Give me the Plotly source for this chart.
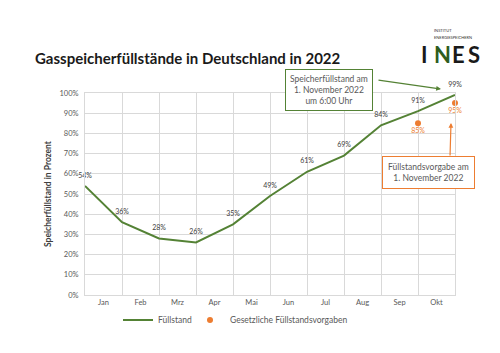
import plotly.graph_objects as go

months = ["Jan", "Feb", "Mrz", "Apr", "Mai", "Jun", "Jul", "Aug", "Sep", "Okt"]
fill_x = [0, 1, 2, 3, 4, 5, 6, 7, 8, 9, 10]
fill_vals = [54, 36, 28, 26, 35, 49, 61, 69, 84, 91, 99]
req_x = [9, 10]
req_vals = [85, 95]
yticks = [0, 10, 20, 30, 40, 50, 60, 70, 80, 90, 100]

GREEN = "#548235"
ORANGE = "#ED7D31"
GRID = "#d9d9d9"
FONT = "Lato"

W, H = 500, 353
l, r, t, b = 85, 45, 93, 58
pw, ph = W - l - r, H - t - b
def px(xp):
    return (xp - l) / pw
def py(yp):
    return (H - b - yp) / ph

fig = go.Figure()
fig.add_trace(go.Scatter(
    x=fill_x, y=fill_vals, mode="lines+markers+text", name="Füllstand",
    line=dict(color=GREEN, width=2),
    marker=dict(size=9, color="rgba(0,0,0,0)"),
    text=[f"{v}%" for v in fill_vals], textposition="top center",
    textfont=dict(size=7, color="#404040", family=FONT),
    cliponaxis=False, hoverinfo="skip", legend="legend",
))
fig.add_trace(go.Scatter(
    x=req_x, y=req_vals, mode="markers+text", name="Gesetzliche Füllstandsvorgaben",
    marker=dict(color=ORANGE, size=6),
    text=[f"{v}%" for v in req_vals], textposition="bottom center",
    textfont=dict(size=7, color=ORANGE, family=FONT),
    cliponaxis=False, hoverinfo="skip", legend="legend2",
))

legend_common = dict(orientation="h", xanchor="left", yanchor="middle",
                     font=dict(size=8.5, color="#595959"), itemwidth=30,
                     bgcolor="rgba(0,0,0,0)")
fig.update_layout(
    width=W, height=H,
    margin=dict(l=l, r=r, t=t, b=b, autoexpand=False),
    paper_bgcolor="white", plot_bgcolor="white",
    font=dict(family=FONT, color="#595959", size=8),
    showlegend=True,
    legend=dict(x=px(118), y=py(320), **legend_common),
    legend2=dict(x=px(190), y=py(320), **legend_common),
    xaxis=dict(range=[0, 10], tickmode="array", tickvals=[i + 0.5 for i in range(10)],
               ticktext=months, showgrid=False, zeroline=False, ticks="",
               showline=True, mirror=True, linecolor=GRID, linewidth=1,
               minor=dict(tick0=0, dtick=1, showgrid=True, gridcolor=GRID, gridwidth=1),
               tickfont=dict(size=7.5, color="#595959")),
    yaxis=dict(range=[0, 100], tickmode="array", tickvals=yticks,
               ticktext=[f"{v}%" for v in yticks], gridcolor=GRID, zeroline=False,
               showline=True, mirror=True, linecolor=GRID, linewidth=1,
               ticks="", ticklen=0, ticklabelstandoff=4,
               tickfont=dict(size=7.5, color="#595959"),
               title=dict(text="Speicherfüllstand in Prozent", standoff=6,
                          font=dict(size=8.5, color="#404040", family=FONT, weight="bold"))),
)

anns = [
    dict(text="<b>Gasspeicherfüllstände in Deutschland in 2022</b>", x=px(33), y=py(58),
         xref="paper", yref="paper", xanchor="left", yanchor="middle", showarrow=False,
         font=dict(size=15, color="#1a1a1a", family=FONT)),
    dict(text="Speicherfüllstand am<br>1. November 2022<br>um 6:00 Uhr", x=px(328.5), y=py(89.5),
         xref="paper", yref="paper", xanchor="center", yanchor="middle", showarrow=False,
         bordercolor=GREEN, borderwidth=1, borderpad=4, bgcolor="white",
         font=dict(size=8.5, color="#595959", family=FONT)),
    dict(text="", x=px(441), y=py(89), xref="paper", yref="paper", ax=-64, ay=-9,
         showarrow=True, arrowhead=2, arrowsize=0.8, arrowwidth=1.2, arrowcolor=GREEN),
    dict(text="Füllstandsvorgabe am<br>1. November 2022", x=px(428.5), y=py(172),
         xref="paper", yref="paper", xanchor="center", yanchor="middle", showarrow=False,
         bordercolor=ORANGE, borderwidth=1, borderpad=5, bgcolor="white",
         font=dict(size=8.5, color="#595959", family=FONT)),
    dict(text="", x=px(451), y=py(123), xref="paper", yref="paper", ax=-1, ay=34,
         showarrow=True, arrowhead=2, arrowsize=0.8, arrowwidth=1.2, arrowcolor=ORANGE),
]

logo = [
    dict(text="INSTITUT", x=px(432), y=py(31), size=4, color="#333333", bold=False),
    dict(text="ENERGIESPEICHERN", x=px(432), y=py(38), size=4, color="#333333", bold=False),
    dict(text="I", x=px(419), y=py(54), size=22, color="#1a1a1a", bold=True),
    dict(text="N", x=px(432), y=py(54), size=22, color="#2f5d1e", bold=True),
    dict(text="E", x=px(450), y=py(54), size=22, color="#1a1a1a", bold=True),
    dict(text="S", x=px(466), y=py(54), size=22, color="#1a1a1a", bold=True),
]
for lg in logo:
    t_ = f"<b>{lg['text']}</b>" if lg["bold"] else lg["text"]
    anns.append(dict(text=t_, x=lg["x"], y=lg["y"], xref="paper", yref="paper",
                     xanchor="left", yanchor="middle", showarrow=False,
                     font=dict(size=lg["size"], color=lg["color"], family=FONT)))
fig.update_layout(annotations=anns)

fig.write_html("out.html")
